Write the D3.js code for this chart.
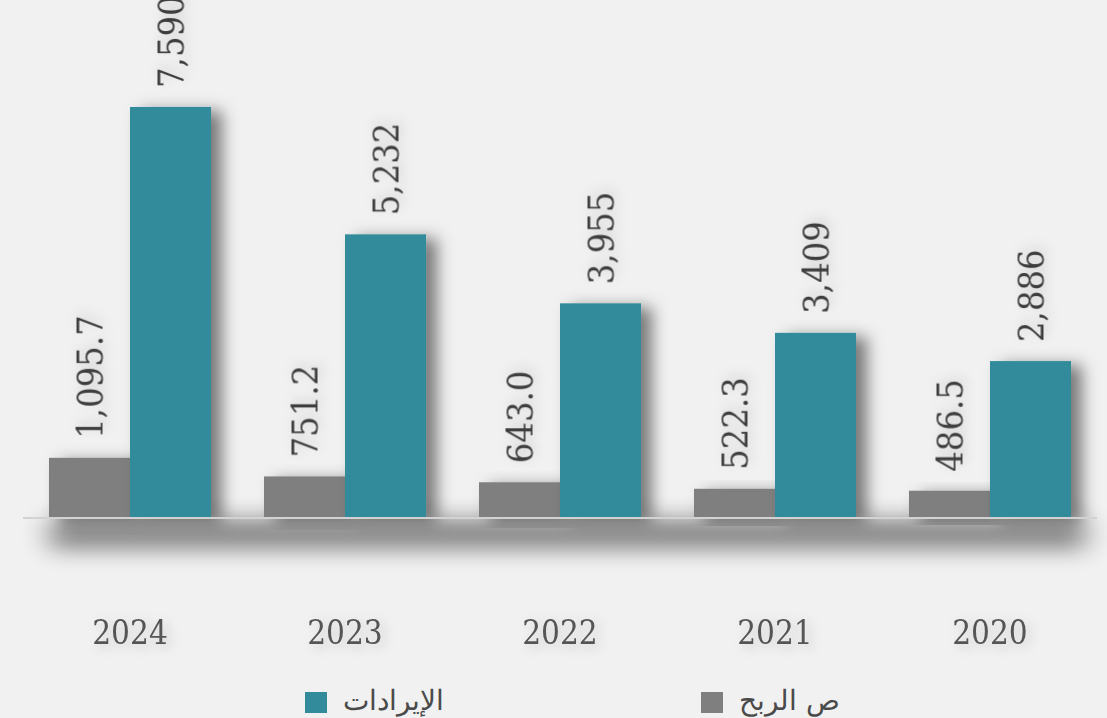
<!DOCTYPE html>
<html>
<head>
<meta charset="utf-8">
<script src="https://d3js.org/d3.v7.min.js"></script>
<style>
	body { margin: 0; background: #f1f1f1; }
	svg { display: block; background: #f1f1f1; }
	.val { font-family: "DejaVu Serif Condensed", "DejaVu Serif", serif; font-size: 36px; fill: #3e3e3e; }
	.year { font-family: "DejaVu Serif Condensed", "DejaVu Serif", serif; font-size: 33px; fill: #555; }
	.leg { font-family: "DejaVu Sans", "Noto Sans", sans-serif; font-weight: 200; font-size: 28px; fill: #4a4a4a; }
</style>
</head>
<body>
<svg id="chart" width="1107" height="718"></svg>
<script>
// data
var years = ["2024", "2023", "2022", "2021", "2020"];
var revenue = [7590, 5232, 3955, 3409, 2886];
var profit = [1095.7, 751.2, 643.0, 522.3, 486.5];
var seriesNames = ["الإيرادات", "ص الربح"];
var colors = ["#318b9a", "#7f7f7f"];

var svg = d3.select("#chart");
var baseY = 517;

var defs = svg.append("defs");
var f = defs.append("filter").attr("id", "barShadow")
	.attr("x", "-30%").attr("y", "-30%").attr("width", "180%").attr("height", "160%");
f.append("feDropShadow").attr("dx", 11).attr("dy", 4).attr("stdDeviation", 8)
	.attr("flood-color", "#000").attr("flood-opacity", 0.5);

var ft = defs.append("filter").attr("id", "textShadow")
	.attr("x", "-30%").attr("y", "-30%").attr("width", "160%").attr("height", "160%");
ft.append("feDropShadow").attr("dx", 4).attr("dy", 3).attr("stdDeviation", 6)
	.attr("flood-color", "#000").attr("flood-opacity", 0.18);

var fb = defs.append("filter").attr("id", "blur")
	.attr("x", "-20%").attr("y", "-300%").attr("width", "140%").attr("height", "700%");
fb.append("feGaussianBlur").attr("stdDeviation", "14 11");

var x0 = d3.scaleBand().domain(years).range([22.5, 1097.5])
	.paddingInner(0.2465).paddingOuter(0.1233);
var x1 = d3.scaleBand().domain([1, 0]).range([0, x0.bandwidth()]);
var y = d3.scaleLinear().domain([0, 9570]).range([baseY, 0]);

// axis shadow band
svg.append("rect")
	.attr("x", 50).attr("y", baseY + 2).attr("width", 1035).attr("height", 30)
	.attr("fill", "#000").attr("opacity", 0.45).attr("filter", "url(#blur)");

var rows = years.map(function(d, i) {
	return { year: d, vals: [{ s: 0, v: revenue[i], fmt: d3.format(",") }, { s: 1, v: profit[i], fmt: d3.format(",.1f") }] };
});

var g = svg.selectAll(".grp").data(rows).enter().append("g")
	.attr("class", "grp")
	.attr("transform", function(d) { return "translate(" + x0(d.year) + ",0)"; });

// draw gray first then teal on top
g.selectAll("rect").data(function(d) { return [d.vals[1], d.vals[0]]; }).enter().append("rect")
	.attr("x", function(d) { return x1(d.s); })
	.attr("y", function(d) { return y(d.v); })
	.attr("width", x1.bandwidth())
	.attr("height", function(d) { return baseY - y(d.v); })
	.attr("fill", function(d) { return colors[d.s]; })
	.attr("filter", "url(#barShadow)");

g.selectAll("text.val").data(function(d) { return d.vals; }).enter().append("text")
	.attr("class", "val")
	.attr("filter", "url(#textShadow)")
	.attr("transform", function(d) {
		return "translate(" + (x1(d.s) + x1.bandwidth() / 2) + "," + (y(d.v) - 19) + ") rotate(-90)";
	})
	.attr("dy", "0.35em")
	.attr("text-anchor", "start")
	.text(function(d) { return d.fmt(d.v); });

// axis line
svg.append("line")
	.attr("x1", 23).attr("x2", 1097).attr("y1", baseY + 1).attr("y2", baseY + 1)
	.attr("stroke", "#d2d2d2").attr("stroke-width", 2);

// year labels
svg.selectAll("text.year").data(years).enter().append("text")
	.attr("class", "year")
	.attr("filter", "url(#textShadow)")
	.attr("x", function(d) { return x0(d) + x0.bandwidth() / 2; })
	.attr("y", 644)
	.attr("text-anchor", "middle")
	.text(function(d) { return d; });

// legend
var legX = [305, 701];
var leg = svg.selectAll(".leg-item").data(seriesNames).enter().append("g")
	.attr("transform", function(d, i) { return "translate(" + legX[i] + ",692)"; });
leg.append("rect").attr("width", 22).attr("height", 21)
	.attr("fill", function(d, i) { return colors[i]; });
leg.append("text").attr("class", "leg")
	.attr("x", 38).attr("y", 18)
	.attr("text-anchor", "start")
	.text(function(d) { return d; });
</script>
</body>
</html>
